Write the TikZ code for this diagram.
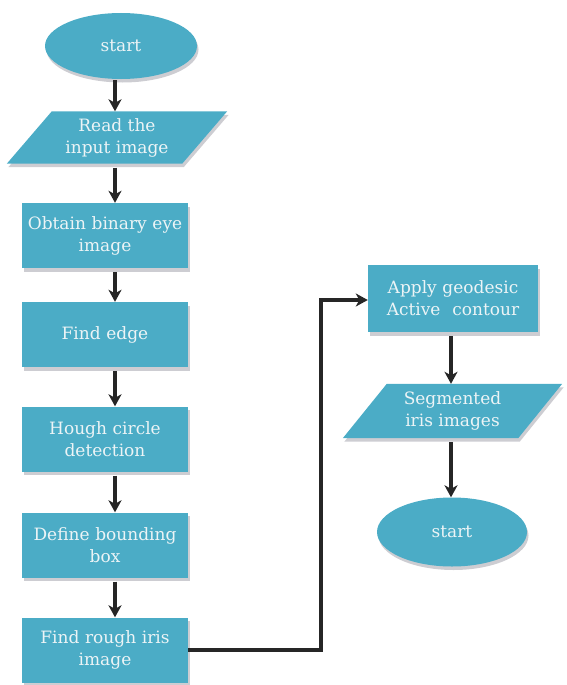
\documentclass[tikz,border=0pt]{standalone}
\usepackage{fontspec}
\setmainfont{DejaVu Serif}
\usetikzlibrary{shapes.geometric,arrows.meta,shadows,backgrounds,calc}
\definecolor{boxfill}{RGB}{75,172,198}
\definecolor{boxtext}{RGB}{236,244,246}
\definecolor{arrowcol}{RGB}{38,38,38}
\definecolor{shadowcol}{RGB}{205,205,210}
\tikzset{
  flowtext/.style={text=boxtext, font=\fontsize{17}{22}\selectfont, align=center, inner sep=0pt},
  myshadow/.style={drop shadow={shadow xshift=1.5pt, shadow yshift=-3.5pt, fill=shadowcol, opacity=1}},
  terminal/.style={flowtext, ellipse, fill=boxfill, myshadow, minimum width=152pt, minimum height=66pt},
  procbox/.style={flowtext, rectangle, fill=boxfill, myshadow, text width=164pt, minimum width=166pt, minimum height=65pt},
  iobox/.style={flowtext, rectangle, minimum height=52pt},
  flowarrow/.style={draw=arrowcol, line width=3.2pt, -{Stealth[length=12pt,width=13pt,inset=3.5pt]}}
}
\begin{document}
\begin{tikzpicture}[x=1pt,y=-1pt]
\useasboundingbox (0,0) rectangle (566,685);
% axes for the vertical arrows
\coordinate (laxis) at (115,0);
\coordinate (raxis) at (451,0);
% left column
\node[terminal] (start1) at (121,46) {start};
\node[iobox, minimum width=220pt] (read) at (117,137.5) {Read the\\input image};
\node[procbox] (obtain) at (105,235.5) {Obtain binary eye\\image};
\node[procbox] (edge) at (105,334.5) {Find edge};
\node[procbox] (hough) at (105,439) {Hough circle\\detection};
\node[procbox] (bbox) at (105,545) {Define bounding\\box};
\node[procbox] (rough) at (105,650) {Find rough iris\\image};
% right column
\node[procbox, text width=168pt, minimum width=170pt, minimum height=67pt] (apply) at (453,298.5) {Apply geodesic\\Active\hspace{0.7em}contour};
\node[iobox, minimum width=219pt, minimum height=54pt] (seg) at (452.5,411) {Segmented\\iris images};
\node[terminal, minimum width=150pt, minimum height=69pt] (end1) at (452,532) {start};
% parallelogram bodies
\begin{scope}[on background layer]
  \fill[shadowcol] ([shift={(46.5pt,-3.5pt)}]read.north west) -- ([shift={(1.5pt,-3.5pt)}]read.north east) -- ([shift={(-43.5pt,-3.5pt)}]read.south east) -- ([shift={(1.5pt,-3.5pt)}]read.south west) -- cycle;
  \fill[boxfill] ([xshift=45pt]read.north west) -- (read.north east) -- ([xshift=-45pt]read.south east) -- (read.south west) -- cycle;
  \fill[shadowcol] ([shift={(45.5pt,-3.5pt)}]seg.north west) -- ([shift={(1.5pt,-3.5pt)}]seg.north east) -- ([shift={(-42.5pt,-3.5pt)}]seg.south east) -- ([shift={(1.5pt,-3.5pt)}]seg.south west) -- cycle;
  \fill[boxfill] ([xshift=44pt]seg.north west) -- (seg.north east) -- ([xshift=-44pt]seg.south east) -- (seg.south west) -- cycle;
\end{scope}
% connectors
\draw[flowarrow, shorten <=1pt] (start1.south -| laxis) -- (read.north -| laxis);
\draw[flowarrow, shorten <=4pt] (read.south -| laxis) -- (obtain.north -| laxis);
\draw[flowarrow, shorten <=4pt] (obtain.south -| laxis) -- (edge.north -| laxis);
\draw[flowarrow, shorten <=4pt] (edge.south -| laxis) -- (hough.north -| laxis);
\draw[flowarrow, shorten <=4pt] (hough.south -| laxis) -- (bbox.north -| laxis);
\draw[flowarrow, shorten <=4pt] (bbox.south -| laxis) -- (rough.north -| laxis);
\draw[flowarrow, line join=miter] (rough.east) -- (321,650) -- (321,300) -- (apply.west |- 0,300);
\draw[flowarrow, shorten <=4pt] (apply.south -| raxis) -- (seg.north -| raxis);
\draw[flowarrow, shorten <=4pt] (seg.south -| raxis) -- (end1.north -| raxis);
\end{tikzpicture}
\end{document}
